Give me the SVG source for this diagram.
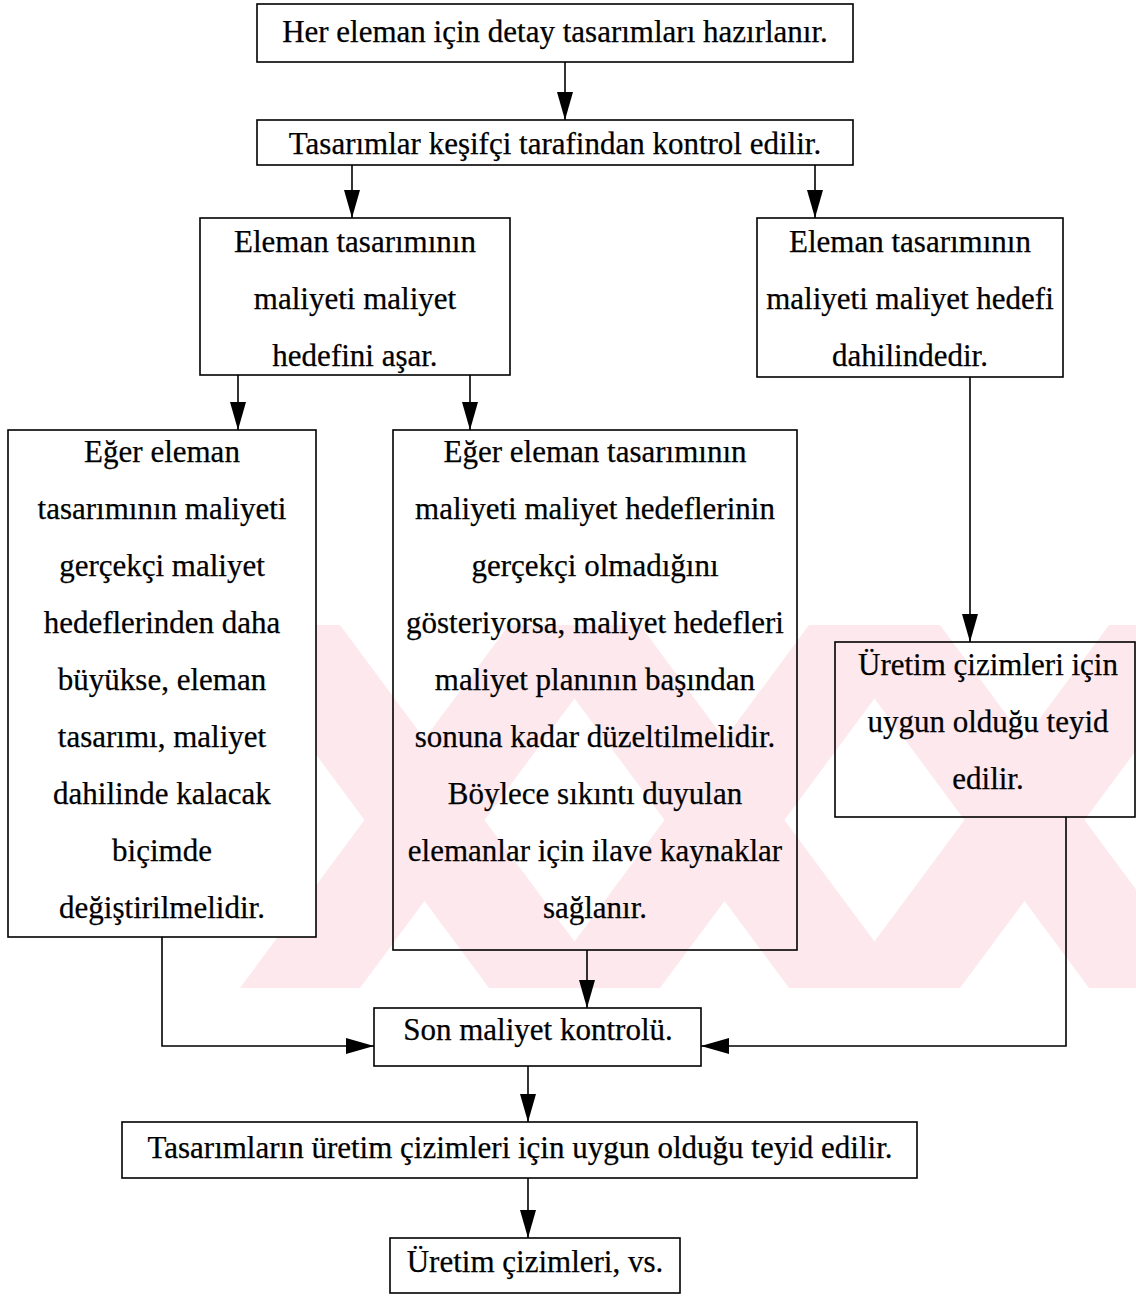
<svg xmlns="http://www.w3.org/2000/svg" width="1136" height="1296" viewBox="0 0 1136 1296">
<defs>
<style>
.box{fill:none;stroke:#000;stroke-width:1.6}
.t{font-family:"Liberation Serif","Times New Roman",serif;font-size:31px;fill:#000;stroke:#000;stroke-width:0.25;text-anchor:middle}
.c{fill:none;stroke:#000;stroke-width:1.6}
.wm{fill:#fde8ed;stroke:none}
</style>
<marker id="ah" markerUnits="userSpaceOnUse" markerWidth="30" markerHeight="18" refX="28" refY="8" orient="auto">
<path d="M0,0 L28,8 L0,16 z" fill="#000"/>
</marker>
<clipPath id="wmclip"><rect x="0" y="625" width="1136" height="363"/></clipPath>
</defs>
<rect width="1136" height="1296" fill="#fff"/>
<g id="watermark" clip-path="url(#wmclip)">
<polygon class="wm" points="220,625 340,625 609,988 489,988"/>
<polygon class="wm" points="520,625 640,625 909,988 789,988"/>
<polygon class="wm" points="820,625 940,625 1209,988 1089,988"/>
<polygon class="wm" points="240,988 360,988 629,625 509,625"/>
<polygon class="wm" points="540,988 660,988 929,625 809,625"/>
<polygon class="wm" points="840,988 960,988 1229,625 1109,625"/>
</g>
<g id="connectors">
<path class="c" d="M565,62 V120" marker-end="url(#ah)"/>
<path class="c" d="M352,165 V218" marker-end="url(#ah)"/>
<path class="c" d="M815,165 V218" marker-end="url(#ah)"/>
<path class="c" d="M238,375 V430" marker-end="url(#ah)"/>
<path class="c" d="M470,375 V430" marker-end="url(#ah)"/>
<path class="c" d="M970,377 V642" marker-end="url(#ah)"/>
<path class="c" d="M162,937 V1046 H374" marker-end="url(#ah)"/>
<path class="c" d="M587,950 V1008" marker-end="url(#ah)"/>
<path class="c" d="M1066,817 V1046 H701" marker-end="url(#ah)"/>
<path class="c" d="M528,1066 V1122" marker-end="url(#ah)"/>
<path class="c" d="M528,1178 V1238" marker-end="url(#ah)"/>
</g>
<g id="n1">
<rect class="box" x="257" y="4" width="596" height="58"/>
<text class="t" x="555" y="42">Her eleman için detay tasarımları hazırlanır.</text>
</g>
<g id="n2">
<rect class="box" x="257" y="120" width="596" height="45"/>
<text class="t" x="555" y="154">Tasarımlar keşifçi tarafindan kontrol edilir.</text>
</g>
<g id="n3">
<rect class="box" x="200" y="218" width="310" height="157"/>
<text class="t" x="355" y="252">Eleman tasarımının</text>
<text class="t" x="355" y="309">maliyeti maliyet</text>
<text class="t" x="355" y="366">hedefini aşar.</text>
</g>
<g id="n4">
<rect class="box" x="757" y="218" width="306" height="159"/>
<text class="t" x="910" y="252">Eleman tasarımının</text>
<text class="t" x="910" y="309">maliyeti maliyet hedefi</text>
<text class="t" x="910" y="366">dahilindedir.</text>
</g>
<g id="n5">
<rect class="box" x="8" y="430" width="308" height="507" style="fill:#fff"/>
<text class="t" x="162" y="462">Eğer eleman</text>
<text class="t" x="162" y="519">tasarımının maliyeti</text>
<text class="t" x="162" y="576">gerçekçi maliyet</text>
<text class="t" x="162" y="633">hedeflerinden daha</text>
<text class="t" x="162" y="690">büyükse, eleman</text>
<text class="t" x="162" y="747">tasarımı, maliyet</text>
<text class="t" x="162" y="804">dahilinde kalacak</text>
<text class="t" x="162" y="861">biçimde</text>
<text class="t" x="162" y="918">değiştirilmelidir.</text>
</g>
<g id="n6">
<rect class="box" x="393" y="430" width="404" height="520"/>
<text class="t" x="595" y="462">Eğer eleman tasarımının</text>
<text class="t" x="595" y="519">maliyeti maliyet hedeflerinin</text>
<text class="t" x="595" y="576">gerçekçi olmadığını</text>
<text class="t" x="595" y="633">gösteriyorsa, maliyet hedefleri</text>
<text class="t" x="595" y="690">maliyet planının başından</text>
<text class="t" x="595" y="747">sonuna kadar düzeltilmelidir.</text>
<text class="t" x="595" y="804">Böylece sıkıntı duyulan</text>
<text class="t" x="595" y="861">elemanlar için ilave kaynaklar</text>
<text class="t" x="595" y="918">sağlanır.</text>
</g>
<g id="n7">
<rect class="box" x="835" y="642" width="300" height="175"/>
<text class="t" x="988" y="675">Üretim çizimleri için</text>
<text class="t" x="988" y="732">uygun olduğu teyid</text>
<text class="t" x="988" y="789">edilir.</text>
</g>
<g id="n8">
<rect class="box" x="374" y="1008" width="327" height="58"/>
<text class="t" x="538" y="1040">Son maliyet kontrolü.</text>
</g>
<g id="n9">
<rect class="box" x="122" y="1122" width="795" height="56"/>
<text class="t" x="520" y="1158">Tasarımların üretim çizimleri için uygun olduğu teyid edilir.</text>
</g>
<g id="n10">
<rect class="box" x="390" y="1238" width="290" height="55"/>
<text class="t" x="535" y="1272">Üretim çizimleri, vs.</text>
</g>
</svg>
